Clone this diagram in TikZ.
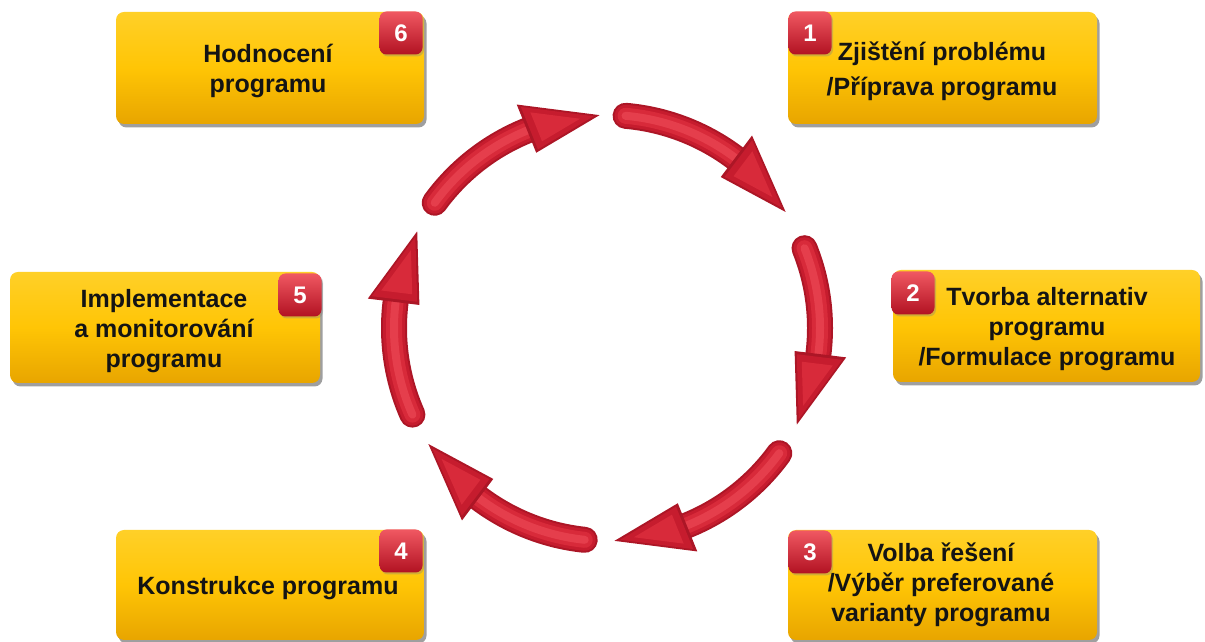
\documentclass[tikz,border=0pt]{standalone}
\usepackage{fontspec}
\setmainfont{Liberation Sans}
\usetikzlibrary{calc,shadows}
\definecolor{boxtop}{RGB}{255,208,40}
\definecolor{boxmid}{RGB}{255,197,5}
\definecolor{boxbot}{RGB}{232,165,0}
\definecolor{badgetop}{RGB}{240,88,98}
\definecolor{badgebot}{RGB}{178,18,34}
\definecolor{arrdark}{RGB}{172,22,38}
\definecolor{arrmid}{RGB}{198,28,46}
\definecolor{arrlight}{RGB}{216,42,58}
\definecolor{arrhigh}{RGB}{229,62,76}
\tikzset{
  ybox/.style={rounded corners=8pt, top color=boxtop, bottom color=boxbot, middle color=boxmid,
    minimum width=308pt, minimum height=112pt, inner sep=0pt,
    drop shadow={shadow xshift=2.5pt, shadow yshift=-3.5pt, opacity=0.5, fill=black!75}},
  badge/.style={rounded corners=7pt, top color=badgetop, bottom color=badgebot,
    minimum width=43pt, minimum height=43pt, inner sep=0pt, text=white,
    font=\fontsize{24}{24}\selectfont\bfseries,
    drop shadow={shadow xshift=1.5pt, shadow yshift=-2pt, opacity=0.35}},
  ltext/.style={font=\fontsize{25}{30}\selectfont\bfseries, align=center, inner sep=0pt, text=black!92},
}
\newcommand{\cycarrow}[3]{%
  \coordinate (#1-s) at ($(C)+(#2:213)$);
  \coordinate (#1-t) at ($(C)+({#3}:213)$);
  \coordinate (#1-i) at ($(C)+({#3+20}:189)$);
  \coordinate (#1-o) at ($(C)+({#3+20}:241)$);
  \foreach \w/\c in {26/arrdark, 22/arrmid, 16/arrlight, 8/arrhigh}
    \draw[line width=\w pt, color=\c, line cap=round] (#1-s) arc[start angle=#2, end angle={#3+17}, radius=213];
  \fill[arrdark] (#1-i) -- (#1-t) -- (#1-o) -- cycle;
  \coordinate (#1-m) at ($0.3333*(#1-i)+0.3333*(#1-t)+0.3334*(#1-o)$);
  \fill[arrmid] ($(#1-m)!0.88!(#1-i)$) -- ($(#1-m)!0.88!(#1-t)$) -- ($(#1-m)!0.88!(#1-o)$) -- cycle;
  \fill[arrlight] ($(#1-m)!0.6!(#1-i)$) -- ($(#1-m)!0.6!(#1-t)$) -- ($(#1-m)!0.6!(#1-o)$) -- cycle;
}
\begin{document}
\begin{tikzpicture}[x=1pt,y=1pt]
\useasboundingbox (0,0) rectangle (1205,642);
\coordinate (C) at (607,314);
% cycle arrows
\cycarrow{a1}{85}{33}
\cycarrow{a2}{22}{-27}
\cycarrow{a3}{-36}{-88}
\cycarrow{a4}{-96}{-147}
\cycarrow{a5}{-156}{-207}
\cycarrow{a6}{144}{92}
% boxes
\node[ybox] (b6) at (270,574) {};
\node[ybox, minimum width=309pt] (b1) at (942.5,574) {};
\node[ybox, minimum width=310pt, minimum height=111pt] (b5) at (165,314.5) {};
\node[ybox, minimum width=307pt] (b2) at (1046.5,316) {};
\node[ybox, minimum height=110pt] (b4) at (270,57) {};
\node[ybox, minimum width=309pt, minimum height=110pt] (b3) at (942.5,57) {};
% texts
\node[ltext] (t6) at (268,571) {Hodnocení\\programu};
\node[ltext, font=\fontsize{25}{35}\selectfont\bfseries] (t1) at (942,571) {Zjištění problému\\/Příprava programu};
\node[ltext] (t5) at (164,311) {Implementace\\a monitorování\\programu};
\node[ltext] (t2) at (1047,313) {Tvorba alternativ\\programu\\/Formulace programu};
\node[ltext] (t4) at (268,54) {Konstrukce programu};
\node[ltext] (t3) at (941,57) {Volba řešení\\/Výběr preferované\\varianty programu};
% badges
\node[badge] (n1) at (810,609) {1};
\node[badge] (n2) at (913,349) {2};
\node[badge] (n3) at (810,90) {3};
\node[badge] (n4) at (401,91) {4};
\node[badge] (n5) at (300,347) {5};
\node[badge] (n6) at (401,609) {6};
\end{tikzpicture}
\end{document}
